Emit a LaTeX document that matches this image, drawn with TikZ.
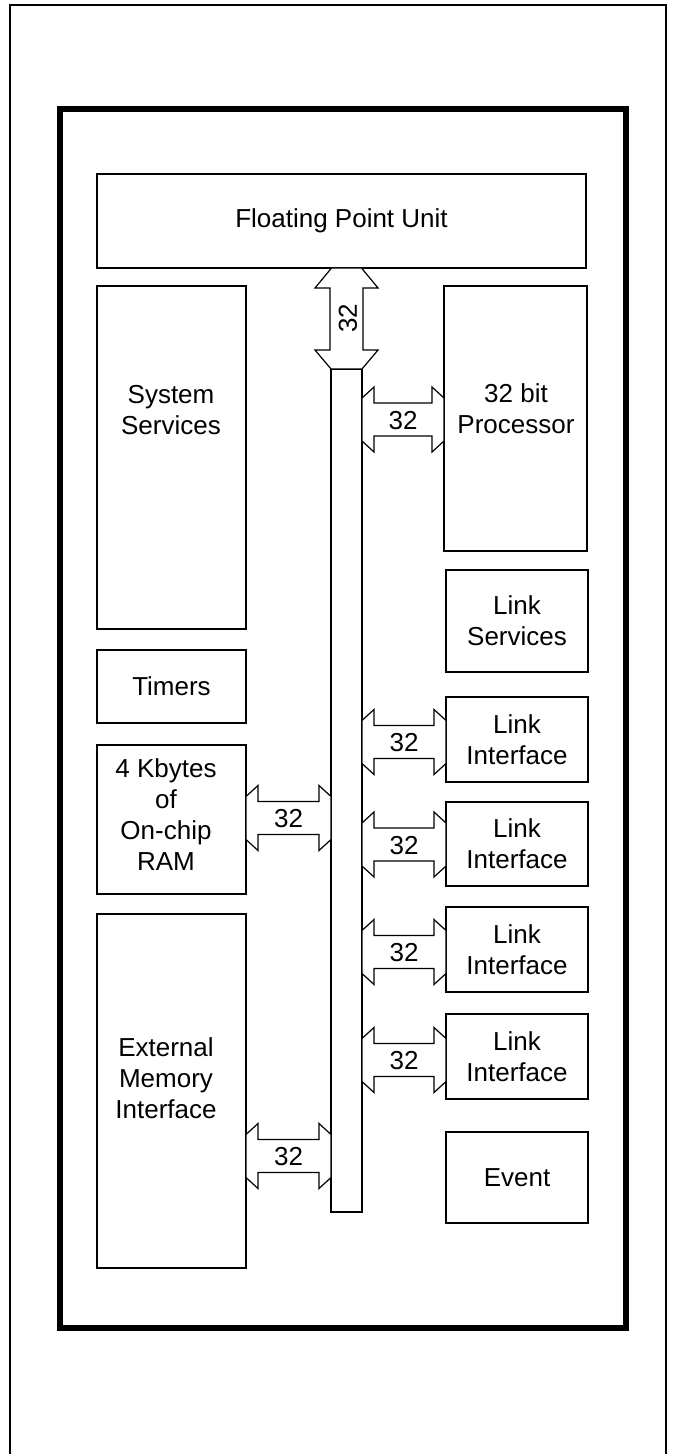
\documentclass[tikz,border=0pt]{standalone}
\usepackage{fontspec}
\setmainfont{Liberation Sans}
\usetikzlibrary{calc}
\newcommand\harr[3]{%
  \coordinate (L) at (#1.east |- 0,#3);
  \coordinate (R) at (#2.west |- 0,#3);
  \draw[arr] ($(L)+(0,-21.5)$) -- ($(L)+(12,-32.5)$) -- ($(L)+(12,-16.5)$)
    -- ($(R)+(-12,-16.5)$) -- ($(R)+(-12,-32.5)$) -- ($(R)+(0,-21.5)$)
    -- ($(R)+(0,21.5)$) -- ($(R)+(-12,32.5)$) -- ($(R)+(-12,16.5)$)
    -- ($(L)+(12,16.5)$) -- ($(L)+(12,32.5)$) -- ($(L)+(0,21.5)$) -- cycle;
  \node[lbl] at ($(L)!0.5!(R)+(0,1)$) {32};
}
\begin{document}
\begin{tikzpicture}[x=0.5pt,y=-0.5pt,
  blk/.style={draw, line width=0.6pt, inner sep=0pt, outer sep=0pt, anchor=north west,
    align=center, font=\fontsize{13}{15.5}\selectfont},
  txt/.style={align=center, inner sep=0pt, font=\fontsize{13}{15.5}\selectfont},
  arr/.style={draw, line width=0.6pt, line join=miter, fill=white},
  lbl/.style={inner sep=0pt, font=\fontsize{13}{15.5}\selectfont}]
\useasboundingbox[fill=white] (0,0) rectangle (673,1454);
% outer frame (open at bottom)
\draw[line width=0.6pt] (10,1460) -- (10,5) -- (666,5) -- (666,1460);
% chip outline
\draw[line width=3pt] (59.5,109) rectangle (626,1327.5);
% blocks
\node[blk, minimum width=244.5pt, minimum height=47pt] (fpu) at (97,174) {Floating Point Unit};
\node[blk, minimum width=74.5pt, minimum height=171.5pt] (sys) at (97,286) {};
\node[txt] (systxt) at (171,410) {System\\Services};
\node[blk, minimum width=74.5pt, minimum height=36.5pt] (tim) at (97,650) {Timers};
\node[blk, minimum width=74.5pt, minimum height=74.5pt] (ram) at (97,745) {};
\node[txt] (ramtxt) at (166,815) {4 Kbytes\\of\\On-chip\\RAM};
\node[blk, minimum width=74.5pt, minimum height=177pt] (emi) at (97,914) {};
\node[txt] (emitxt) at (166,1078) {External\\Memory\\Interface};
\node[blk, minimum width=71.5pt, minimum height=132.5pt] (proc) at (444,286) {};
\node[txt] (proctxt) at (516,409) {32 bit\\Processor};
\node[blk, minimum width=71pt, minimum height=51pt] (lsv) at (446,570) {Link\\Services};
\node[blk, minimum width=71pt, minimum height=42.5pt] (li1) at (446,697) {Link\\Interface};
\node[blk, minimum width=71pt, minimum height=42pt] (li2) at (446,802) {Link\\Interface};
\node[blk, minimum width=71pt, minimum height=42.5pt] (li3) at (446,907) {Link\\Interface};
\node[blk, minimum width=71pt, minimum height=42.5pt] (li4) at (446,1014) {Link\\Interface};
\node[blk, minimum width=71pt, minimum height=45.5pt] (evt) at (446,1132) {Event};
% bus
\node[blk, minimum width=15.5pt, minimum height=421.5pt] (bus) at (331,369) {};
% vertical arrow FPU <-> bus
\coordinate (T) at (bus.north |- fpu.south);
\coordinate (B) at (bus.north);
\draw[arr] ($(T)+(-15,0)$) -- ($(T)+(15,0)$) -- ($(T)+(31.5,20)$) -- ($(T)+(16.5,20)$)
  -- ($(B)+(16.5,-19)$) -- ($(B)+(31.5,-19)$) -- ($(B)+(15.5,0)$) -- ($(B)+(-15.5,0)$)
  -- ($(B)+(-31.5,-19)$) -- ($(B)+(-16.5,-19)$) -- ($(T)+(-16.5,20)$) -- ($(T)+(-31.5,20)$) -- cycle;
\node[lbl, rotate=90] at ($(T)!0.5!(B)+(1.5,0)$) {32};
% horizontal arrows
\harr{bus}{proc}{419.5}
\harr{bus}{li1}{742}
\harr{bus}{li2}{844.5}
\harr{bus}{li3}{952}
\harr{bus}{li4}{1060}
\harr{ram}{bus}{818}
\harr{emi}{bus}{1156}
\end{tikzpicture}
\end{document}
